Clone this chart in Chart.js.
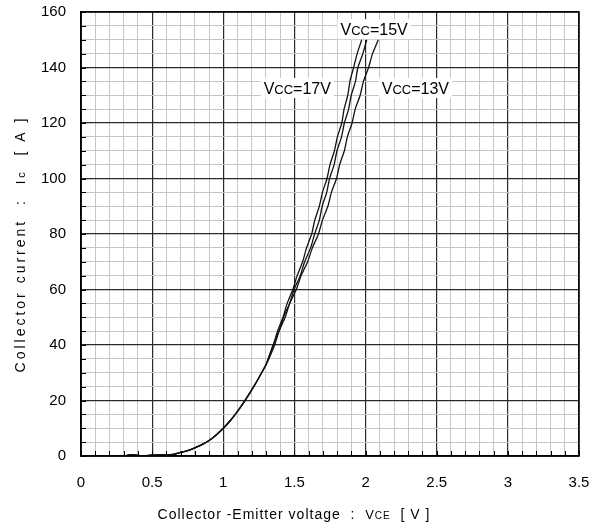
<!DOCTYPE html>
<html>
<head>
<meta charset="utf-8">
<script src="https://cdn.jsdelivr.net/npm/chart.js@4.4.1/dist/chart.umd.min.js"></script>
<style>
  html, body { margin: 0; padding: 0; background: #fff; }
  #wrap { width: 595px; height: 529px; }
</style>
</head>
<body>
<div id="wrap"><canvas id="chart"></canvas></div>
<script>
// low current part, the three curves sit on top of each other here
const lowVce = [0, 0.30, 0.34, 0.37, 0.40, 0.45, 0.50, 0.55, 0.60, 0.65, 0.70, 0.75, 0.80, 0.85, 0.90, 0.95, 1.00, 1.05, 1.10, 1.15, 1.20, 1.25, 1.30];
const lowIc = [0, 0, 0.4, 0.5, 0.2, 0, 0.3, 0.4, 0.4, 0.6, 1.3, 1.9, 2.9, 4.1, 5.6, 7.6, 10, 12.8, 16.1, 19.8, 23.8, 28.2, 32.9];

// upper part, Vce read at each Ic step
const icSteps = [35, 40, 45, 50, 55, 60, 65, 70, 75, 80, 85, 90, 95, 100, 105, 110, 115, 120, 125, 130, 135, 140, 145, 150];
const vce17 = [1.315, 1.352, 1.381, 1.420, 1.449, 1.489, 1.519, 1.558, 1.585, 1.621, 1.643, 1.675, 1.697, 1.729, 1.750, 1.781, 1.802, 1.833, 1.849, 1.875, 1.890, 1.916, 1.941, 1.973];
const vce15 = [1.317, 1.350, 1.392, 1.423, 1.466, 1.497, 1.541, 1.572, 1.614, 1.642, 1.675, 1.695, 1.727, 1.747, 1.779, 1.799, 1.831, 1.851, 1.881, 1.899, 1.929, 1.946, 1.981, 2.008];
const vce13 = [1.320, 1.361, 1.392, 1.435, 1.467, 1.513, 1.547, 1.593, 1.626, 1.669, 1.697, 1.735, 1.760, 1.796, 1.818, 1.851, 1.872, 1.905, 1.927, 1.962, 1.985, 2.021, 2.049, 2.089];

const xTickLabels = ['0', '0.5', '1', '1.5', '2', '2.5', '3', '3.5'];
const yTickLabels = ['0', '20', '40', '60', '80', '100', '120', '140', '160'];

function curve(upper) {
  const pts = lowVce.map((v, i) => ({ x: v, y: lowIc[i] }));
  upper.forEach((v, i) => pts.push({ x: v, y: icSteps[i] }));
  return pts;
}

function isMajorX(v) { return Math.round(v * 10) % 5 === 0; }
function isMajorY(v) { return Math.round(v) % 20 === 0; }

const FONT = "'Liberation Sans', Arial, sans-serif";

// curve labels, placed in data units
const curveLabels = [
  { sub: 'CC', rest: '=15V', x: 2.06, y: 153.8 },
  { sub: 'CC', rest: '=17V', x: 1.52, y: 132.6 },
  { sub: 'CC', rest: '=13V', x: 2.35, y: 132.6 }
];

// draws mixed-size text pieces starting at x, on a common baseline
function drawPieces(ctx, pieces, x, y) {
  pieces.forEach(p => {
    ctx.font = p.size + 'px ' + FONT;
    ctx.fillText(p.t, x, y);
    x += ctx.measureText(p.t).width;
  });
}
function piecesWidth(ctx, pieces) {
  let w = 0;
  pieces.forEach(p => { ctx.font = p.size + 'px ' + FONT; w += ctx.measureText(p.t).width; });
  return w;
}

const extras = {
  id: 'extras',
  afterDraw(chart) {
    const ctx = chart.ctx;
    const xs = chart.scales.x, ys = chart.scales.y;
    const a = chart.chartArea;
    ctx.save();

    // inner tick marks on left and bottom axis
    ctx.strokeStyle = '#000';
    ctx.lineWidth = 1;
    ys.ticks.forEach(t => {
      const py = Math.round(ys.getPixelForValue(t.value)) + 0.5;
      ctx.beginPath(); ctx.moveTo(a.left, py); ctx.lineTo(a.left + 5, py); ctx.stroke();
    });
    xs.ticks.forEach(t => {
      const px = Math.round(xs.getPixelForValue(t.value)) + 0.5;
      ctx.beginPath(); ctx.moveTo(px, a.bottom); ctx.lineTo(px, a.bottom - 5); ctx.stroke();
    });

    // frame
    ctx.lineWidth = 1.5;
    ctx.strokeRect(a.left, a.top, a.right - a.left, a.bottom - a.top);

    // curve labels with white box
    ctx.textBaseline = 'alphabetic';
    ctx.textAlign = 'left';
    curveLabels.forEach(l => {
      const pieces = [{ t: 'V', size: 16 }, { t: l.sub, size: 13 }, { t: l.rest, size: 16 }];
      const w = piecesWidth(ctx, pieces);
      const cx = xs.getPixelForValue(l.x), cy = ys.getPixelForValue(l.y);
      ctx.fillStyle = '#fff';
      ctx.fillRect(cx - w / 2 - 3, cy - 10, w + 6, 20);
      ctx.fillStyle = '#000';
      drawPieces(ctx, pieces, cx - w / 2, cy + 6);
    });

    // axis titles
    if ('letterSpacing' in ctx) ctx.letterSpacing = '1px';
    const xt = [
      { t: 'Collector -Emitter voltage  :  ', size: 14 },
      { t: 'V', size: 13 }, { t: 'CE', size: 10 },
      { t: '  [ V ]', size: 14 }
    ];
    const xw = piecesWidth(ctx, xt);
    drawPieces(ctx, xt, 294 - xw / 2, 519);

    if ('letterSpacing' in ctx) ctx.letterSpacing = '3px';
    const yt = [
      { t: 'Collector current  :  ', size: 14 },
      { t: 'I', size: 13 }, { t: 'c', size: 11 },
      { t: '  [ A ]', size: 14 }
    ];
    const yw = piecesWidth(ctx, yt);
    ctx.translate(25, 244);
    ctx.rotate(-Math.PI / 2);
    drawPieces(ctx, yt, -yw / 2, 0);
    ctx.restore();
  }
};

const lineStyle = { borderColor: '#111', borderWidth: 1.3, pointRadius: 0, fill: false, tension: 0.2 };

function noPad(s) {
  s.paddingLeft = 0; s.paddingRight = 0; s.paddingTop = 0; s.paddingBottom = 0;
}

new Chart(document.getElementById('chart'), {
  type: 'line',
  data: {
    datasets: [
      Object.assign({ label: 'Vcc=17V', data: curve(vce17) }, lineStyle),
      Object.assign({ label: 'Vcc=15V', data: curve(vce15) }, lineStyle),
      Object.assign({ label: 'Vcc=13V', data: curve(vce13) }, lineStyle)
    ]
  },
  options: {
    responsive: true,
    maintainAspectRatio: false,
    animation: false,
    layout: { padding: { left: 0, top: 12, right: 16, bottom: 0 } },
    plugins: { legend: { display: false }, tooltip: { enabled: false } },
    scales: {
      x: {
        type: 'linear',
        min: 0, max: 3.5,
        afterFit(s) { s.height = 73; noPad(s); },
        ticks: {
          stepSize: 0.1, maxTicksLimit: 100, autoSkip: false, maxRotation: 0,
          padding: 18, color: '#000', font: { family: FONT, size: 15 },
          callback: v => isMajorX(v) ? xTickLabels[Math.round(v * 2)] : ''
        },
        grid: {
          drawTicks: false,
          color: c => isMajorX(c.tick.value) ? '#2a2a2a' : '#c6c6c6',
          lineWidth: c => isMajorX(c.tick.value) ? 1.2 : 1
        },
        border: { display: true, color: '#000', width: 1.5 }
      },
      y: {
        type: 'linear',
        min: 0, max: 160,
        afterFit(s) { s.width = 81; noPad(s); },
        ticks: {
          stepSize: 5, maxTicksLimit: 100, autoSkip: false,
          padding: 15, color: '#000', font: { family: FONT, size: 15 },
          callback: v => isMajorY(v) ? yTickLabels[Math.round(v / 20)] : ''
        },
        grid: {
          drawTicks: false,
          color: c => isMajorY(c.tick.value) ? '#2a2a2a' : '#c6c6c6',
          lineWidth: c => isMajorY(c.tick.value) ? 1.2 : 1
        },
        border: { display: true, color: '#000', width: 1.5 }
      }
    }
  },
  plugins: [extras]
});
</script>
</body>
</html>
